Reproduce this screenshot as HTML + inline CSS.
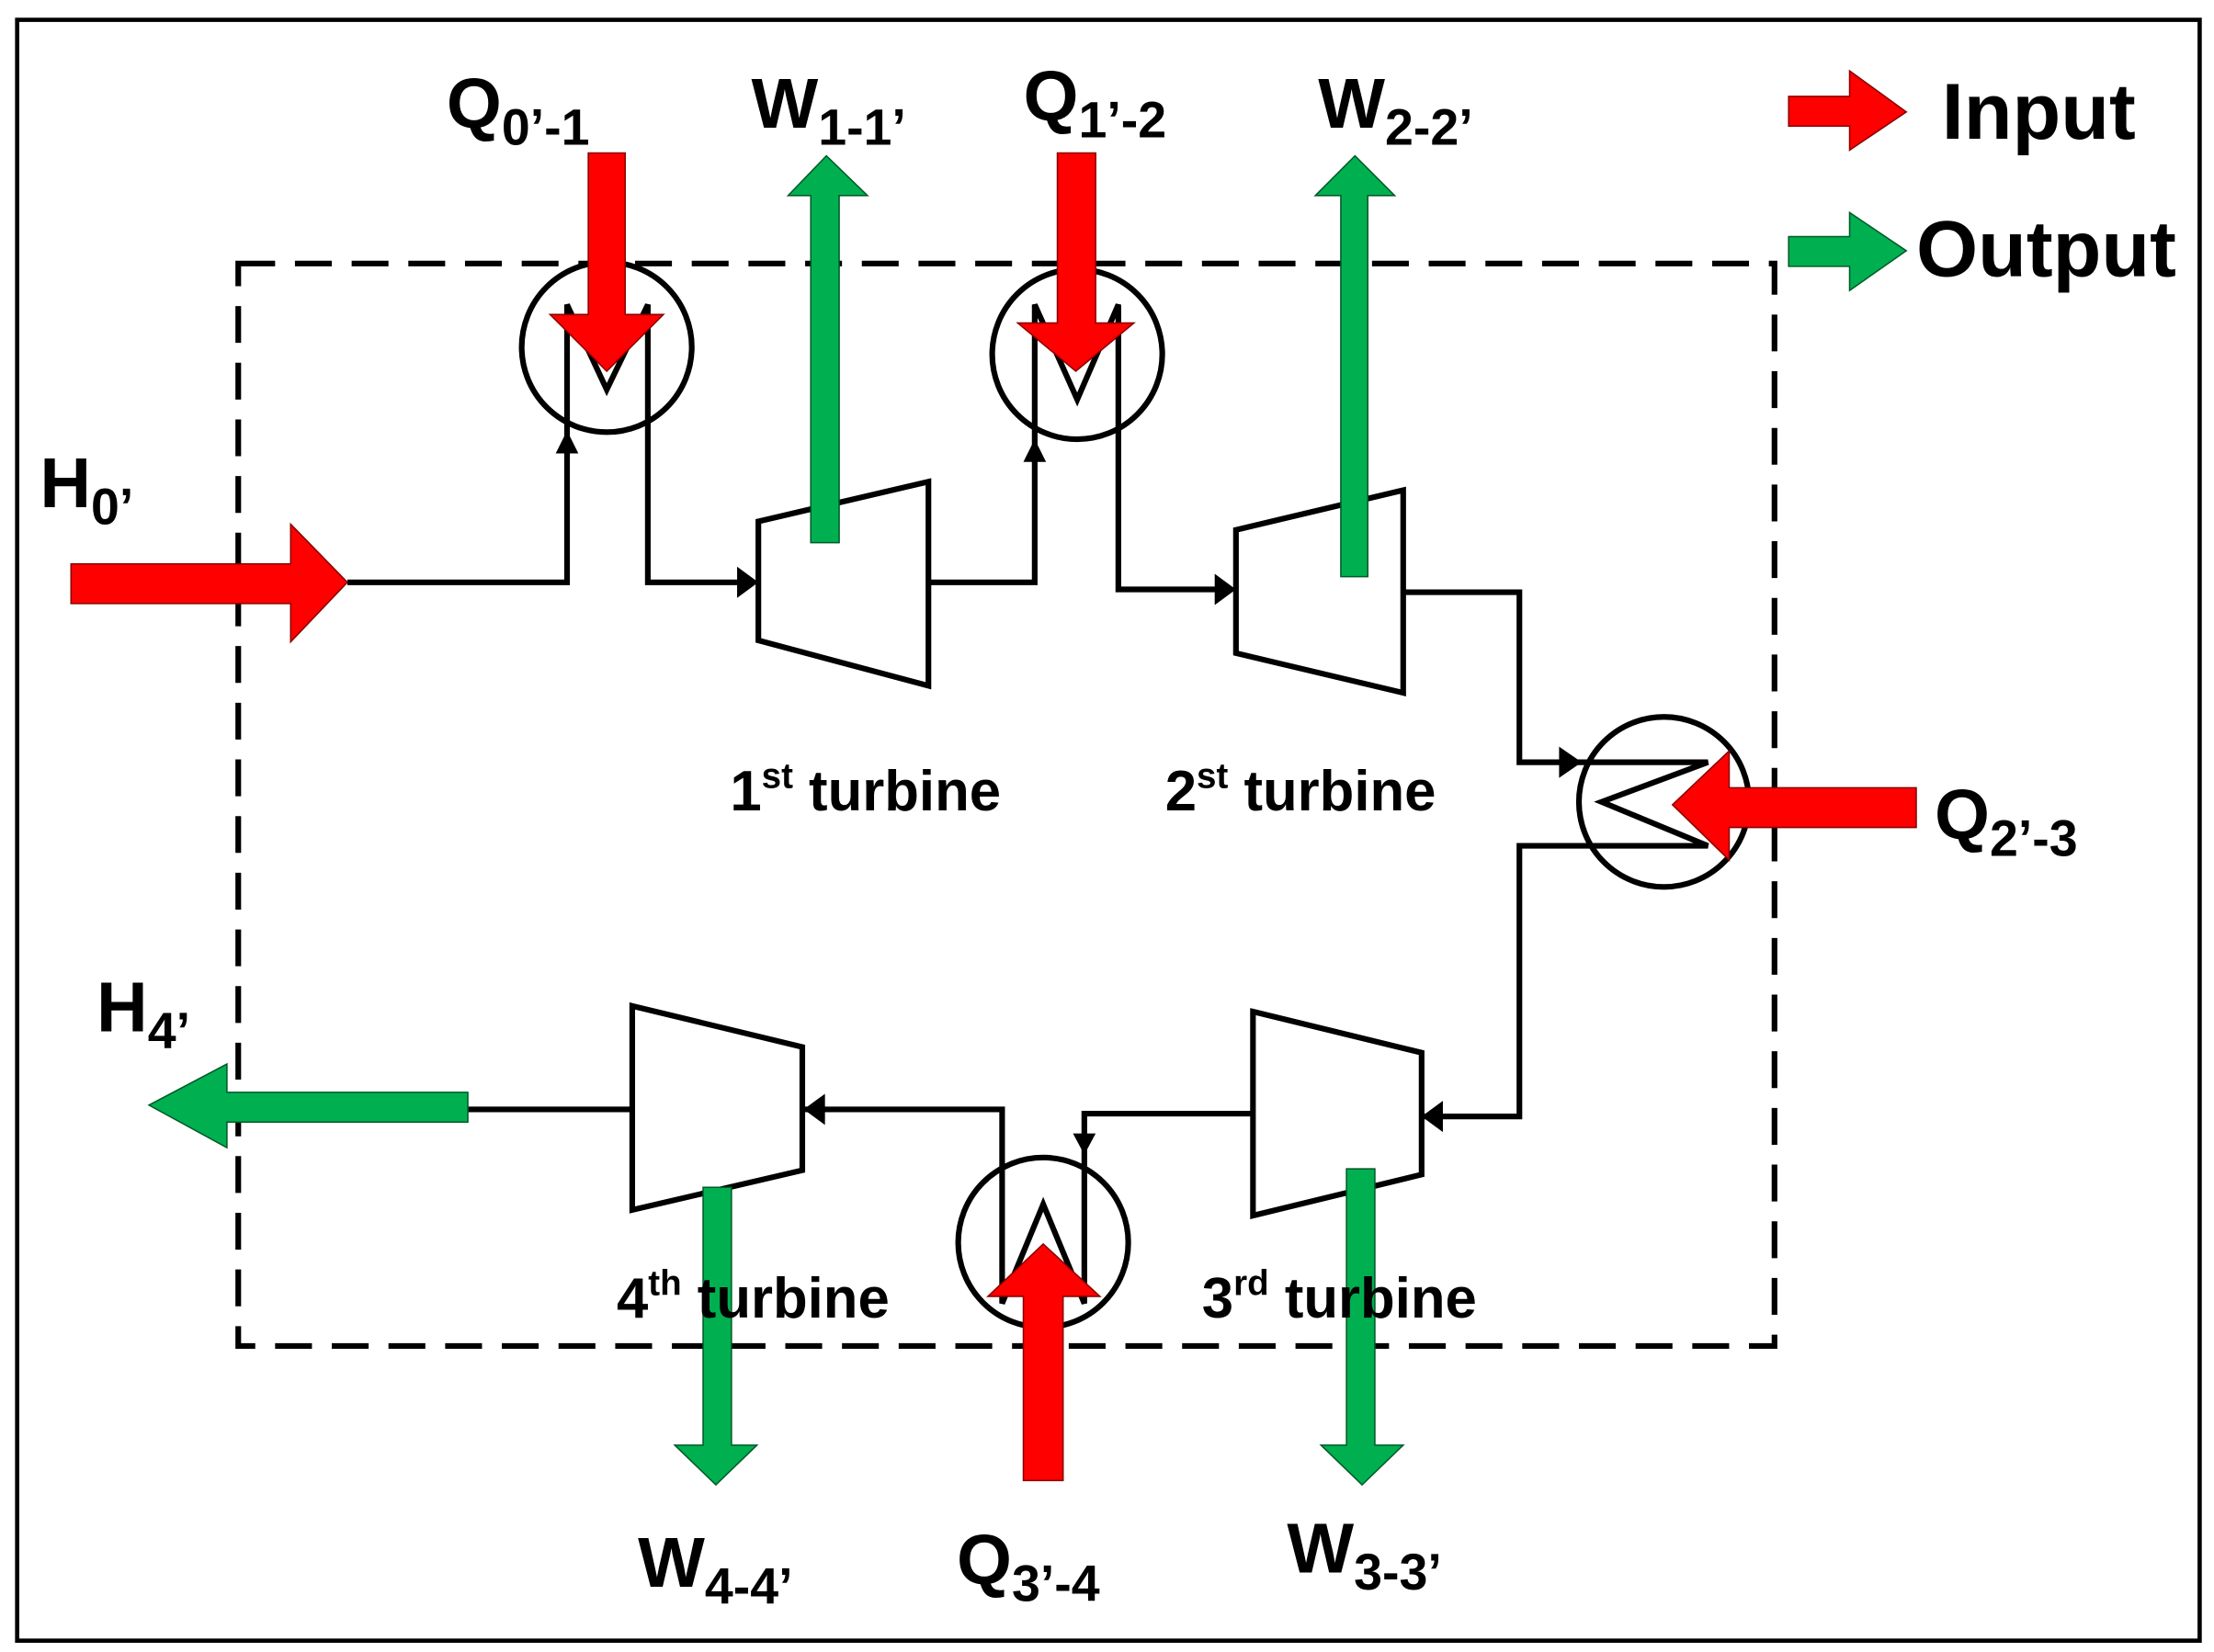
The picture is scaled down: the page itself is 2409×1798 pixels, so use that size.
<!DOCTYPE html>
<html><head><meta charset="utf-8"><style>
html,body{margin:0;padding:0;background:#fff;width:2409px;height:1798px;overflow:hidden}
svg{display:block}
text{font-family:"Liberation Sans",Arial,sans-serif;font-weight:bold;fill:#000}
</style></head><body>
<svg width="2409" height="1798" viewBox="0 0 1562 1166" xmlns="http://www.w3.org/2000/svg">
<rect x="0" y="0" width="1562" height="1166" fill="#fff"/>
<rect x="12" y="14" width="1540" height="1144" fill="none" stroke="#000" stroke-width="3"/>
<rect x="168" y="186" width="1084" height="764" fill="none" stroke="#000" stroke-width="4" stroke-dasharray="26,14"/>

<g fill="none" stroke="#000" stroke-width="4">
<circle cx="428" cy="245" r="60"/>
<polyline points="245,411 400,411 400,215 428,275 457,215 457,411 530,411"/>
<polygon points="535,368 655,340 655,484 535,452"/>
<polyline points="655,411 730,411 730,215 760,282 789,215 789,416 868,416"/>
<circle cx="760" cy="250" r="60"/>
<polygon points="872,374 990,346 990,489 872,461"/>
<polyline points="990,418 1072,418 1072,538 1205,538 1130,566 1205,597 1072,597 1072,788 1003,788"/>
<circle cx="1174" cy="566" r="60"/>
<polygon points="884,714 1003,743 1003,829 884,858"/>
<polyline points="884,786 765,786 765,920 736,850 707,920 707,783 567,783"/>
<circle cx="736" cy="877" r="60"/>
<polygon points="446,710 566,739 566,826 446,854"/>
<line x1="446" y1="783" x2="330" y2="783"/>
</g>
<g fill="#000">
<polygon points="392,320 408,320 400,304"/>
<polygon points="722,326 738,326 730,310"/>
<polygon points="520,400 520,422 535,411"/>
<polygon points="857,405 857,427 872,416"/>
<polygon points="1100,527 1100,549 1116,538"/>
<polygon points="1018,777 1018,799 1003,788"/>
<polygon points="757,800 773,800 765,815"/>
<polygon points="582,772 582,794 567,783"/>
<polygon points="186,772 186,792 174,782"/>
</g>

<g fill="#ff0000" stroke="#8a0000" stroke-width="1">
<polygon points="50,398 205,398 205,370 245,411 205,453 205,426 50,426"/>
<polygon points="415,108 441,108 441,222 468,222 428,262 388,222 415,222"/>
<polygon points="746,108 773,108 773,228 800,228 759,262 718,228 746,228"/>
<polygon points="1352,556 1220,556 1220,530 1180,568 1220,607 1220,584 1352,584"/>
<polygon points="722,1045 750,1045 750,915 776,915 736,878 697,915 722,915"/>
<polygon points="1262,68 1305,68 1305,50 1345,79 1305,106 1305,89 1262,89"/>
</g>
<g fill="#00b050" stroke="#005a28" stroke-width="1">
<polygon points="572,383 592,383 592,138 612,138 583,110 556,138 572,138"/>
<polygon points="946,407 965,407 965,138 984,138 956,110 928,138 946,138"/>
<polygon points="950,825 970,825 970,1020 990,1020 961,1048 932,1020 950,1020"/>
<polygon points="496,838 516,838 516,1020 534,1020 505,1048 476,1020 496,1020"/>
<polygon points="330,771 330,792 160,792 160,810 105,780 160,751 160,771"/>
<polygon points="1262,167 1305,167 1305,150 1345,177 1305,205 1305,188 1262,188"/>
</g>

<text x="315" y="90" font-size="50">Q<tspan font-size="36" dy="12">0’-1</tspan></text>
<text x="530" y="90" font-size="50">W<tspan font-size="36" dy="12">1-1’</tspan></text>
<text x="722" y="85" font-size="50">Q<tspan font-size="36" dy="12">1’-2</tspan></text>
<text x="930" y="90" font-size="50">W<tspan font-size="36" dy="12">2-2’</tspan></text>
<text x="1370" y="98" font-size="56">Input</text>
<text x="1352" y="195" font-size="56">Output</text>
<text x="28" y="358" font-size="50">H<tspan font-size="36" dy="12">0’</tspan></text>
<text x="68" y="728" font-size="50">H<tspan font-size="36" dy="12">4’</tspan></text>
<text x="1365" y="592" font-size="50">Q<tspan font-size="36" dy="12">2’-3</tspan></text>
<text x="450" y="1120" font-size="50">W<tspan font-size="36" dy="12">4-4’</tspan></text>
<text x="675" y="1118" font-size="50">Q<tspan font-size="36" dy="12">3’-4</tspan></text>
<text x="908" y="1110" font-size="50">W<tspan font-size="36" dy="12">3-3’</tspan></text>
<text x="515" y="572" font-size="40">1<tspan font-size="25" dy="-16">st</tspan><tspan dy="16"> turbine</tspan></text>
<text x="822" y="572" font-size="40">2<tspan font-size="25" dy="-16">st</tspan><tspan dy="16"> turbine</tspan></text>
<text x="435" y="930" font-size="40">4<tspan font-size="25" dy="-16">th</tspan><tspan dy="16"> turbine</tspan></text>
<text x="848" y="930" font-size="40">3<tspan font-size="25" dy="-16">rd</tspan><tspan dy="16"> turbine</tspan></text>
</svg>
</body></html>
